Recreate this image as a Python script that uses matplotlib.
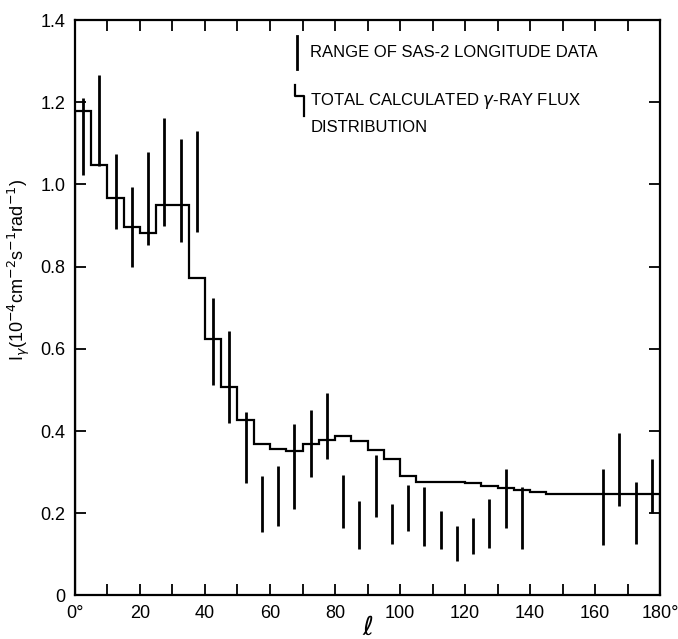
import matplotlib
matplotlib.use('Agg')
import matplotlib.pyplot as plt
import numpy as np

plt.rcParams['font.family'] = ['Liberation Sans', 'DejaVu Sans']
plt.rcParams['mathtext.fontset'] = 'dejavusans'

# calculated flux, 5 degree bins from 0 to 180
bin_edges = np.arange(0, 185, 5)
calc_flux = [1.178, 1.048, 0.968, 0.897, 0.883, 0.949, 0.949, 0.772, 0.624,
             0.508, 0.427, 0.369, 0.357, 0.351, 0.369, 0.379, 0.389, 0.377,
             0.353, 0.331, 0.290, 0.277, 0.277, 0.277, 0.273, 0.266, 0.261,
             0.257, 0.252, 0.248, 0.248, 0.248, 0.248, 0.248, 0.248, 0.248]

# SAS-2 longitude data ranges
sas_l = [2.5, 7.5, 12.5, 17.5, 22.5, 27.5, 32.5, 37.5, 42.5, 47.5, 52.5,
         57.5, 62.5, 67.5, 72.5, 77.5, 82.5, 87.5, 92.5, 97.5, 102.5, 107.5,
         112.5, 117.5, 122.5, 127.5, 132.5, 137.5, 162.5, 167.5, 172.5, 177.5]
sas_low = [1.022, 1.044, 0.891, 0.798, 0.852, 0.899, 0.859, 0.885, 0.512,
           0.420, 0.274, 0.155, 0.169, 0.211, 0.288, 0.333, 0.165, 0.114,
           0.191, 0.125, 0.156, 0.121, 0.112, 0.083, 0.102, 0.116, 0.165,
           0.112, 0.122, 0.218, 0.126, 0.201]
sas_high = [1.210, 1.265, 1.074, 0.993, 1.078, 1.162, 1.111, 1.131, 0.723,
            0.644, 0.446, 0.291, 0.314, 0.417, 0.451, 0.493, 0.292, 0.229,
            0.341, 0.223, 0.269, 0.264, 0.206, 0.168, 0.189, 0.234, 0.308,
            0.264, 0.308, 0.396, 0.276, 0.333]

xticks = np.arange(0, 190, 10)
xlabels = ['0°', '', '20', '', '40', '', '60', '', '80', '', '100', '',
           '120', '', '140', '', '160', '', '180°']
yticks = [0, 0.2, 0.4, 0.6, 0.8, 1.0, 1.2, 1.4]
ylabels = ['0', '0.2', '0.4', '0.6', '0.8', '1.0', '1.2', '1.4']

fig = plt.figure(figsize=(6.78, 6.39), dpi=100)
ax = fig.add_axes([0.1106, 0.0681, 0.8629, 0.9006])

ax.stairs(calc_flux, bin_edges, color='black', lw=1.6)
ax.vlines(sas_l, sas_low, sas_high, color='black', lw=2.0)

ax.set_xlim(0, 180)
ax.set_ylim(0, 1.4)
ax.set_xticks(xticks)
ax.set_xticklabels(xlabels)
ax.set_yticks(yticks)
ax.set_yticklabels(ylabels)
ax.tick_params(direction='in', length=8, width=1.3, top=True, right=True,
               labelsize=13, pad=7)
for s in ax.spines.values():
    s.set_linewidth(1.6)

ax.set_ylabel(r'I$_{\gamma}$(10$^{-4}$cm$^{-2}$s$^{-1}$rad$^{-1}$)', fontsize=13)
ax.yaxis.set_label_coords(-0.0735, 0.565)
ax.set_xlabel(r'$\ell$', fontsize=19)
ax.xaxis.set_label_coords(0.5, -0.036)

# legend drawn by hand
ax.plot([68.4, 68.4], [1.360, 1.281], color='black', lw=2.0)
ax.text(72.4, 1.320, 'RANGE OF SAS-2 LONGITUDE DATA', fontsize=12, va='center')
ax.plot([67.8, 67.8, 70.4, 70.4], [1.243, 1.214, 1.214, 1.166], color='black', lw=1.6)
ax.text(72.4, 1.202, r'TOTAL CALCULATED $\gamma$-RAY FLUX', fontsize=12, va='center')
ax.text(72.4, 1.138, 'DISTRIBUTION', fontsize=12, va='center')

fig.savefig('out.png', dpi=100)
